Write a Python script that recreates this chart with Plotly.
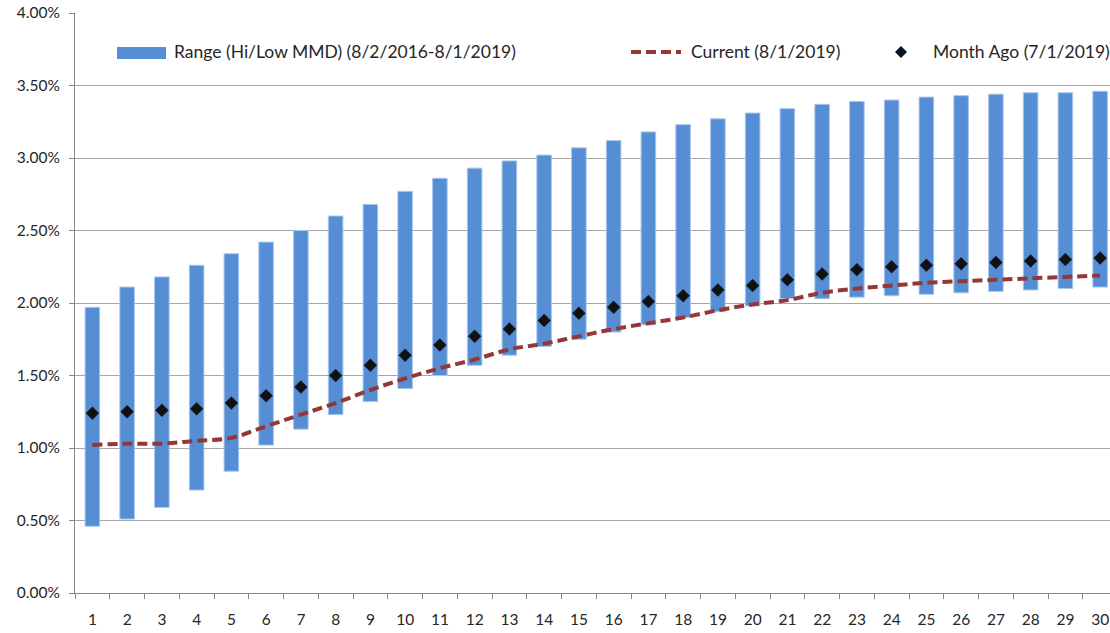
"""MMD yield curve: 3-year hi/low range vs current and month-ago curves."""

import plotly.graph_objects as go

# Palette
BAR_BLUE = "#558ED5"
BAR_EDGE = "#A9C6EC"
CURVE_RED = "#953735"
GRID = "#A6A6A6"
AXIS = "#868686"
TEXT = "#262626"
FONT = "Lato, 'Open Sans', sans-serif"

# Data (percent)
maturity = list(range(1, 31))
range_high = [1.97, 2.11, 2.18, 2.26, 2.34, 2.42, 2.50, 2.60, 2.68, 2.77,
              2.86, 2.93, 2.98, 3.02, 3.07, 3.12, 3.18, 3.23, 3.27, 3.31,
              3.34, 3.37, 3.39, 3.40, 3.42, 3.43, 3.44, 3.45, 3.45, 3.46]
range_low = [0.46, 0.51, 0.59, 0.71, 0.84, 1.02, 1.13, 1.23, 1.32, 1.41,
             1.50, 1.57, 1.64, 1.70, 1.75, 1.80, 1.85, 1.90, 1.94, 1.98,
             2.03, 2.03, 2.04, 2.05, 2.06, 2.07, 2.08, 2.09, 2.10, 2.11]
current = [1.02, 1.03, 1.03, 1.05, 1.07, 1.15, 1.23, 1.31, 1.40, 1.48,
           1.55, 1.61, 1.68, 1.72, 1.77, 1.82, 1.86, 1.90, 1.95, 1.99,
           2.02, 2.07, 2.10, 2.12, 2.14, 2.15, 2.16, 2.17, 2.18, 2.19]
month_ago = [1.24, 1.25, 1.26, 1.27, 1.31, 1.36, 1.42, 1.50, 1.57, 1.64,
             1.71, 1.77, 1.82, 1.88, 1.93, 1.97, 2.01, 2.05, 2.09, 2.12,
             2.16, 2.20, 2.23, 2.25, 2.26, 2.27, 2.28, 2.29, 2.30, 2.31]

y_ticks = [0, 0.5, 1.0, 1.5, 2.0, 2.5, 3.0, 3.5, 4.0]
legend_labels = [
    "Range (Hi/Low MMD) (8/2/2016-8/1/2019)",
    "Current (8/1/2019)",
    "Month Ago (7/1/2019)",
]

# Page geometry (pixels)
W, H = 1110, 633
M_L, M_R, M_T, M_B = 75, 0, 13, 40
PLOT_W = W - M_L - M_R
PLOT_H = H - M_T - M_B


def _px(x):
    return (x - M_L) / PLOT_W


def _py(y):
    return (H - M_B - y) / PLOT_H


fig = go.Figure()

fig.add_trace(go.Bar(
    x=maturity,
    y=[h - l for h, l in zip(range_high, range_low)],
    base=range_low,
    width=0.42,
    marker=dict(color=BAR_BLUE, line=dict(color=BAR_EDGE, width=1)),
    name=legend_labels[0],
))

fig.add_trace(go.Scatter(
    x=maturity, y=current, mode="lines",
    line=dict(color=CURVE_RED, width=4, dash="10px,5px", shape="spline", smoothing=1.0),
    name=legend_labels[1],
))

fig.add_trace(go.Scatter(
    x=maturity, y=month_ago, mode="markers",
    marker=dict(symbol="diamond", size=10, color="#111111",
                line=dict(color="#1F2F45", width=0.5)),
    name=legend_labels[2],
))

# Hand-built legend so the swatches match the original layout
shapes = [
    dict(type="rect", xref="paper", yref="paper",
         x0=_px(117), x1=_px(166), y0=_py(59), y1=_py(47),
         fillcolor=BAR_BLUE, line=dict(width=0)),
    dict(type="line", xref="paper", yref="paper",
         x0=_px(631), x1=_px(681), y0=_py(52), y1=_py(52),
         line=dict(color=CURVE_RED, width=4, dash="10px,5px")),
    dict(type="path", xref="paper", yref="paper",
         path=(f"M {_px(901)},{_py(46)} L {_px(907)},{_py(52)} "
               f"L {_px(901)},{_py(58)} L {_px(895)},{_py(52)} Z"),
         fillcolor="#111111", line=dict(color=BAR_BLUE, width=1)),
]

annotations = [
    dict(text=legend_labels[0], x=_px(172), y=_py(52)),
    dict(text=legend_labels[1], x=_px(689), y=_py(52)),
    dict(text=legend_labels[2], x=_px(931), y=_py(52)),
]
for a in annotations:
    a.update(xref="paper", yref="paper", xanchor="left", yanchor="middle",
             showarrow=False, font=dict(family=FONT, size=17.5, color=TEXT))

fig.update_layout(
    width=W, height=H,
    margin=dict(l=M_L, r=M_R, t=M_T, b=M_B),
    paper_bgcolor="white", plot_bgcolor="white",
    showlegend=False,
    font=dict(family=FONT, size=15.5, color=TEXT),
    shapes=shapes,
    annotations=annotations,
)

fig.update_xaxes(
    range=[0.5, 0.5 + PLOT_W / 34.75],
    tickmode="array", tickvals=maturity, ticktext=[str(m) for m in maturity],
    ticks="", ticklabelstandoff=12,
    minor=dict(ticks="outside", tick0=0.5, dtick=1, ticklen=5, tickcolor=AXIS, showgrid=False),
    showline=True, linecolor=AXIS, linewidth=1,
    showgrid=False, zeroline=False, automargin=False,
)

fig.update_yaxes(
    range=[0, 4.0],
    tickmode="array", tickvals=y_ticks,
    ticktext=[f"{v:.2f}%" for v in y_ticks],
    ticks="outside", ticklen=5, tickcolor=AXIS, ticklabelstandoff=6,
    showline=True, linecolor=AXIS, linewidth=1,
    showgrid=True, gridcolor=GRID, gridwidth=1,
    zeroline=False, automargin=False,
)

# drop the browser's default body margin so the figure sits at the page corner
fig.write_html(
    "out.html",
    config={"displayModeBar": False},
    post_script="document.body.style.margin = '0';",
)
